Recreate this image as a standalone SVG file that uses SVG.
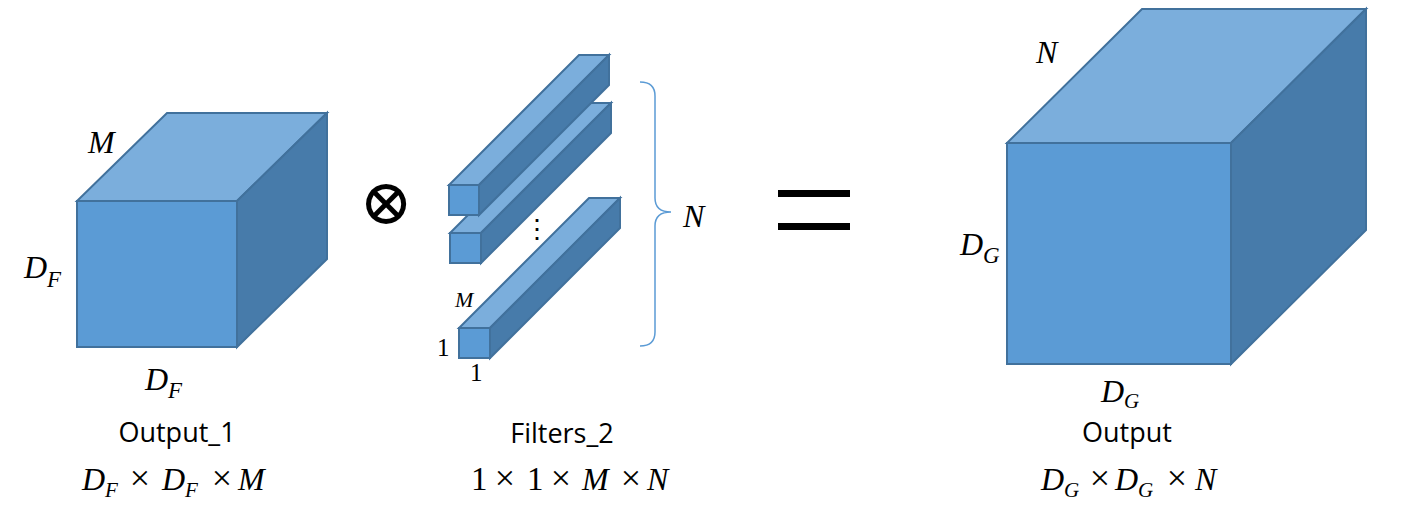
<svg xmlns="http://www.w3.org/2000/svg" width="1416" height="511" viewBox="0 0 1416 511">
<style>
.f{fill:#5B9BD5;stroke:#41719C;stroke-width:2;stroke-linejoin:miter}
.t{fill:#7BAEDC;stroke:#41719C;stroke-width:2}
.s{fill:#477BAA;stroke:#41719C;stroke-width:2}
.m{font-family:"Liberation Serif","DejaVu Serif",serif;font-style:italic;fill:#000}
.r{font-family:"Liberation Serif","DejaVu Serif",serif;font-style:normal;fill:#000}
.x{font-family:"Liberation Serif","DejaVu Serif",serif;font-style:normal;fill:#000;text-anchor:middle;font-size:36px}
.l{font-family:"Open Sans","Noto Sans",sans-serif;fill:#000;text-anchor:middle;font-size:27px}
</style>
<rect width="1416" height="511" fill="#fff"/>
<g id="cube_input">
<polygon class="t" points="77,201 237,201 327,113 167,113"/>
<polygon class="s" points="237,201 327,113 327,259 237,347"/>
<rect class="f" x="77" y="201" width="160" height="146"/>
<text class="m" x="88" y="153" font-size="32">M</text>
<text class="m" x="24" y="278" font-size="32">D<tspan font-size="23" dy="9">F</tspan></text>
<text class="m" x="145" y="390" font-size="32">D<tspan font-size="23" dy="8">F</tspan></text>
<text class="l" x="177" y="442">Output_1</text>
<text class="m" x="82" y="490" font-size="32">D<tspan font-size="21" dy="7">F</tspan></text>
<text class="x" x="140" y="490">×</text>
<text class="m" x="162" y="490" font-size="32">D<tspan font-size="21" dy="7">F</tspan></text>
<text class="x" x="222" y="490">×</text>
<text class="m" x="238" y="490" font-size="32">M</text>
</g>
<g id="otimes">
<text class="r" x="386" y="224" font-size="64" text-anchor="middle" font-family="DejaVu Sans">⊗</text>
</g>
<g id="filters">
<g id="bar3">
<polygon class="t" points="459,328 490,328 620,198 589,198"/>
<polygon class="s" points="490,328 620,198 620,228 490,358"/>
<rect class="f" x="459" y="328" width="31" height="30"/>
</g>
<g id="bar2">
<polygon class="t" points="450,233 481,233 611,103 580,103"/>
<polygon class="s" points="481,233 611,103 611,133 481,263"/>
<rect class="f" x="450" y="233" width="31" height="30"/>
</g>
<g id="bar1">
<polygon class="t" points="449,185 479,185 609,55 579,55"/>
<polygon class="s" points="479,185 609,55 609,85 479,215"/>
<rect class="f" x="449" y="185" width="30" height="30"/>
</g>
<text class="r" x="537" y="238" font-size="26" text-anchor="middle" font-family="DejaVu Sans">⋮</text>
<text class="m" x="455" y="307" font-size="22">M</text>
<text class="r" x="437" y="356" font-size="25">1</text>
<text class="r" x="470" y="381" font-size="25">1</text>
<path d="M640,82 Q655,82 655,96 L655,198 Q655,212 671,212 Q655,212 655,226 L655,332 Q655,346 640,346" fill="none" stroke="#5B9BD5" stroke-width="1.5"/>
<text class="m" x="683" y="227" font-size="32">N</text>
<text class="l" x="562" y="443">Filters_2</text>
<text class="r" x="471" y="490" font-size="33">1</text>
<text class="x" x="505" y="490">×</text>
<text class="r" x="527" y="490" font-size="33">1</text>
<text class="x" x="561" y="490">×</text>
<text class="m" x="582" y="490" font-size="32">M</text>
<text class="x" x="631" y="490">×</text>
<text class="m" x="647" y="490" font-size="32">N</text>
</g>
<g id="equals">
<rect x="778" y="190" width="72" height="7" fill="#000"/>
<rect x="778" y="223" width="72" height="7" fill="#000"/>
</g>
<g id="cube_output">
<polygon class="t" points="1007,143 1231,143 1366,9 1142,9"/>
<polygon class="s" points="1231,143 1366,9 1366,230 1231,364"/>
<rect class="f" x="1007" y="143" width="224" height="221"/>
<text class="m" x="1036" y="63" font-size="32">N</text>
<text class="m" x="960" y="255" font-size="32">D<tspan font-size="23" dy="8">G</tspan></text>
<text class="m" x="1101" y="402" font-size="32">D<tspan font-size="21" dy="6">G</tspan></text>
<text class="l" x="1127" y="442">Output</text>
<text class="m" x="1041" y="490" font-size="32">D<tspan font-size="21" dy="7">G</tspan></text>
<text class="x" x="1100" y="490">×</text>
<text class="m" x="1115" y="490" font-size="32">D<tspan font-size="21" dy="7">G</tspan></text>
<text class="x" x="1177" y="490">×</text>
<text class="m" x="1195" y="490" font-size="32">N</text>
</g>
</svg>
